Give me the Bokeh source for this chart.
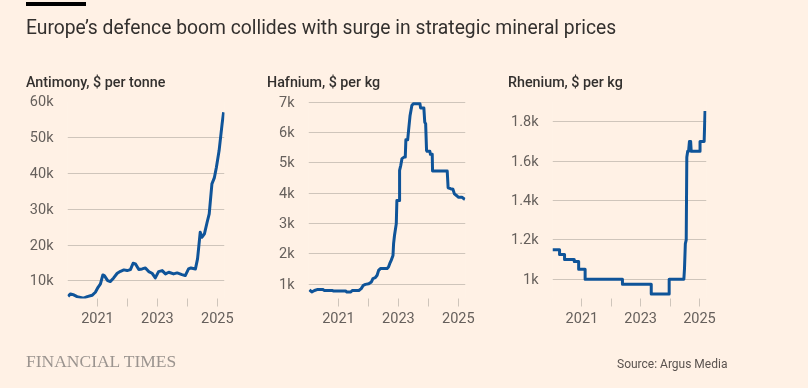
from bokeh.plotting import figure
from bokeh.layouts import column, row
from bokeh.models import Div, FixedTicker, Range1d
from bokeh.embed import file_html
from bokeh.resources import INLINE

# ---------------- data ----------------
TITLE = "Europe\u2019s defence boom collides with surge in strategic mineral prices"
SUBTITLES = ["Antimony, $ per tonne", "Hafnium, $ per kg", "Rhenium, $ per kg"]
SOURCE = "Source: Argus Media"
BRAND = "FINANCIAL TIMES"

year_ticks = [2021, 2022, 2023, 2024, 2025]
year_labels = ["2021", "", "2023", "", "2025"]

antimony_dates = [2020.02, 2020.10, 2020.19, 2020.32, 2020.54, 2020.66, 2020.82, 2020.93,
                  2021.02, 2021.10, 2021.18, 2021.23, 2021.34, 2021.43, 2021.54, 2021.66,
                  2021.77, 2021.88, 2021.99, 2022.10, 2022.19, 2022.27, 2022.38, 2022.49,
                  2022.60, 2022.71, 2022.82, 2022.93, 2023.04, 2023.16, 2023.27, 2023.38,
                  2023.54, 2023.66, 2023.82, 2023.93, 2024.04, 2024.12, 2024.27, 2024.34,
                  2024.43, 2024.49, 2024.57, 2024.66, 2024.73, 2024.82, 2024.90, 2024.97,
                  2025.06, 2025.16, 2025.21]
antimony_prices = [5700, 6380, 6190, 5630, 5200, 5630, 6000, 6840,
                   8230, 9160, 11670, 11490, 10090, 9810, 10840, 12140,
                   12690, 13070, 12880, 13160, 14920, 14740, 13160, 13340,
                   13620, 12600, 12140, 10840, 12600, 12880, 11950, 12420,
                   11950, 12230, 11770, 11490, 13340, 13620, 13340, 16130,
                   23560, 22170, 23100, 26350, 28670, 37030, 38700, 41680,
                   46320, 53760, 57010]
antimony_ticks = [10000, 20000, 30000, 40000, 50000, 60000]
antimony_labels = ["10k", "20k", "30k", "40k", "50k", "60k"]

hafnium_dates = [2020.03, 2020.11, 2020.20, 2020.31, 2020.47, 2020.53, 2020.80, 2020.83,
                 2021.24, 2021.28, 2021.41, 2021.46, 2021.68, 2021.76, 2021.83, 2021.90,
                 2022.01, 2022.10, 2022.15, 2022.23, 2022.29, 2022.34, 2022.40, 2022.62,
                 2022.67, 2022.71, 2022.76, 2022.82, 2022.84, 2022.87, 2022.93, 2022.95,
                 2023.04, 2023.04, 2023.08, 2023.12, 2023.19, 2023.23, 2023.25, 2023.31,
                 2023.34, 2023.39, 2023.45, 2023.50, 2023.72, 2023.74, 2023.85, 2023.88,
                 2023.91, 2023.94, 2023.96, 2024.05, 2024.07, 2024.13, 2024.14, 2024.63,
                 2024.66, 2024.74, 2024.82, 2024.87, 2024.97, 2025.00, 2025.12, 2025.18,
                 2025.22]
hafnium_prices = [820, 750, 800, 835, 835, 800, 800, 780,
                  780, 750, 750, 800, 800, 860, 970, 1000,
                  1020, 1080, 1190, 1220, 1300, 1460, 1520, 1520,
                  1570, 1680, 1790, 1950, 2340, 2610, 3000, 3760,
                  3760, 4750, 4920, 5140, 5190, 5190, 5760, 5760,
                  6070, 6560, 6890, 6950, 6950, 6810, 6810, 6340,
                  6290, 5410, 5380, 5380, 5280, 5280, 4730, 4730,
                  4180, 4150, 4130, 3980, 3900, 3870, 3870, 3820,
                  3800]
hafnium_ticks = [1000, 2000, 3000, 4000, 5000, 6000, 7000]
hafnium_labels = ["1k", "2k", "3k", "4k", "5k", "6k", "7k"]

rhenium_dates = [2020.00, 2020.24, 2020.24, 2020.41, 2020.41, 2020.74, 2020.74, 2020.89,
                 2020.89, 2021.11, 2021.11, 2022.38, 2022.38, 2023.36, 2023.36, 2023.97,
                 2023.97, 2024.47, 2024.49, 2024.52, 2024.55, 2024.57, 2024.60, 2024.63,
                 2024.66, 2024.70, 2024.72, 2025.02, 2025.02, 2025.16, 2025.19]
rhenium_prices = [1150, 1150, 1125, 1125, 1100, 1100, 1090, 1090,
                  1050, 1050, 1000, 1000, 975, 975, 925, 925,
                  1000, 1000, 1050, 1180, 1200, 1620, 1650, 1650,
                  1700, 1700, 1650, 1650, 1700, 1700, 1855]
rhenium_ticks = [1000, 1200, 1400, 1600, 1800]
rhenium_labels = ["1k", "1.2k", "1.4k", "1.6k", "1.8k"]

# ---------------- style ----------------
BG = "#fff1e5"
LINE = "#0f5499"
GRID = "#cfc5bb"
TICKTXT = "#66605c"
TXT = "#33302e"
FONT = "Roboto"


def panel(dates, prices, ticks, labels, yr, width, left):
    p = figure(width=width, height=237, output_backend="svg", toolbar_location=None,
               x_range=Range1d(2020.0, 2025.24), y_range=Range1d(*yr),
               min_border_left=left, min_border_right=43, min_border_top=10,
               min_border_bottom=30)
    p.background_fill_color = BG
    p.border_fill_color = BG
    p.outline_line_color = None
    p.xgrid.visible = False
    p.ygrid.grid_line_color = GRID
    p.ygrid.grid_line_width = 1

    p.xaxis.ticker = FixedTicker(ticks=year_ticks)
    p.xaxis.major_label_overrides = dict(zip(year_ticks, year_labels))
    p.xaxis.axis_line_color = None
    p.xaxis.major_tick_line_color = GRID
    p.xaxis.major_tick_in = 0
    p.xaxis.major_tick_out = 8
    p.xaxis.minor_tick_line_color = None
    p.xaxis.major_label_standoff = 5

    p.yaxis.ticker = FixedTicker(ticks=ticks)
    p.yaxis.major_label_overrides = dict(zip(ticks, labels))
    p.yaxis.axis_line_color = None
    p.yaxis.major_tick_line_color = None
    p.yaxis.major_tick_in = 0
    p.yaxis.major_tick_out = 0
    p.yaxis.minor_tick_line_color = None
    p.yaxis.major_label_standoff = 14

    for ax in (p.xaxis[0], p.yaxis[0]):
        ax.major_label_text_font = FONT
        ax.major_label_text_font_size = "14.5px"
        ax.major_label_text_color = TICKTXT

    p.line(dates, prices, line_width=3, line_color=LINE, line_join="round")
    return p


p1 = panel(antimony_dates, antimony_prices, antimony_ticks, antimony_labels, (5100, 60000), 267, 67)
p2 = panel(hafnium_dates, hafnium_prices, hafnium_ticks, hafnium_labels, (535, 7020), 241, 41)
p3 = panel(rhenium_dates, rhenium_prices, rhenium_ticks, rhenium_labels, (902, 1903), 241, 41)

sub_left = [26, 267, 508]
subs = "".join(
    f'<div style="position:absolute;left:{x}px;top:75px;font-family:{FONT};font-size:14.3px;'
    f'font-weight:500;line-height:1;color:{TXT};white-space:nowrap;">{s}</div>'
    for x, s in zip(sub_left, SUBTITLES))

header_html = (
    f'<div style="position:fixed;left:0;top:0;width:100vw;height:100vh;background:{BG};z-index:-1;"></div>'
    f'<div style="position:relative;width:808px;height:91px;">'
    f'<div style="position:absolute;left:26px;top:2px;width:60px;height:4px;background:#000;"></div>'
    f'<div style="position:absolute;left:26px;top:18px;font-family:{FONT};font-size:19.3px;'
    f'line-height:1;color:{TXT};white-space:nowrap;">{TITLE}</div>'
    f'{subs}</div>')

footer_html = (
    f'<div style="position:relative;width:808px;height:52px;">'
    f'<div style="position:absolute;left:26px;top:24.6px;font-family:\'Liberation Serif\';font-size:17.5px;'
    f'line-height:1;color:#9b948f;white-space:nowrap;">{BRAND}</div>'
    f'<div style="position:absolute;left:617px;top:30.2px;font-family:{FONT};font-size:12px;'
    f'line-height:1;color:#5a534f;white-space:nowrap;">{SOURCE}</div>'
    f'</div>')

header = Div(text=header_html, width=808, height=91, margin=(0, 0, 0, 0))
footer = Div(text=footer_html, width=808, height=52, margin=(0, 0, 0, 0))

root = column(header, row(p1, p2, p3, spacing=0), footer, spacing=0)

open("out.html", "w").write(file_html(root, INLINE))
